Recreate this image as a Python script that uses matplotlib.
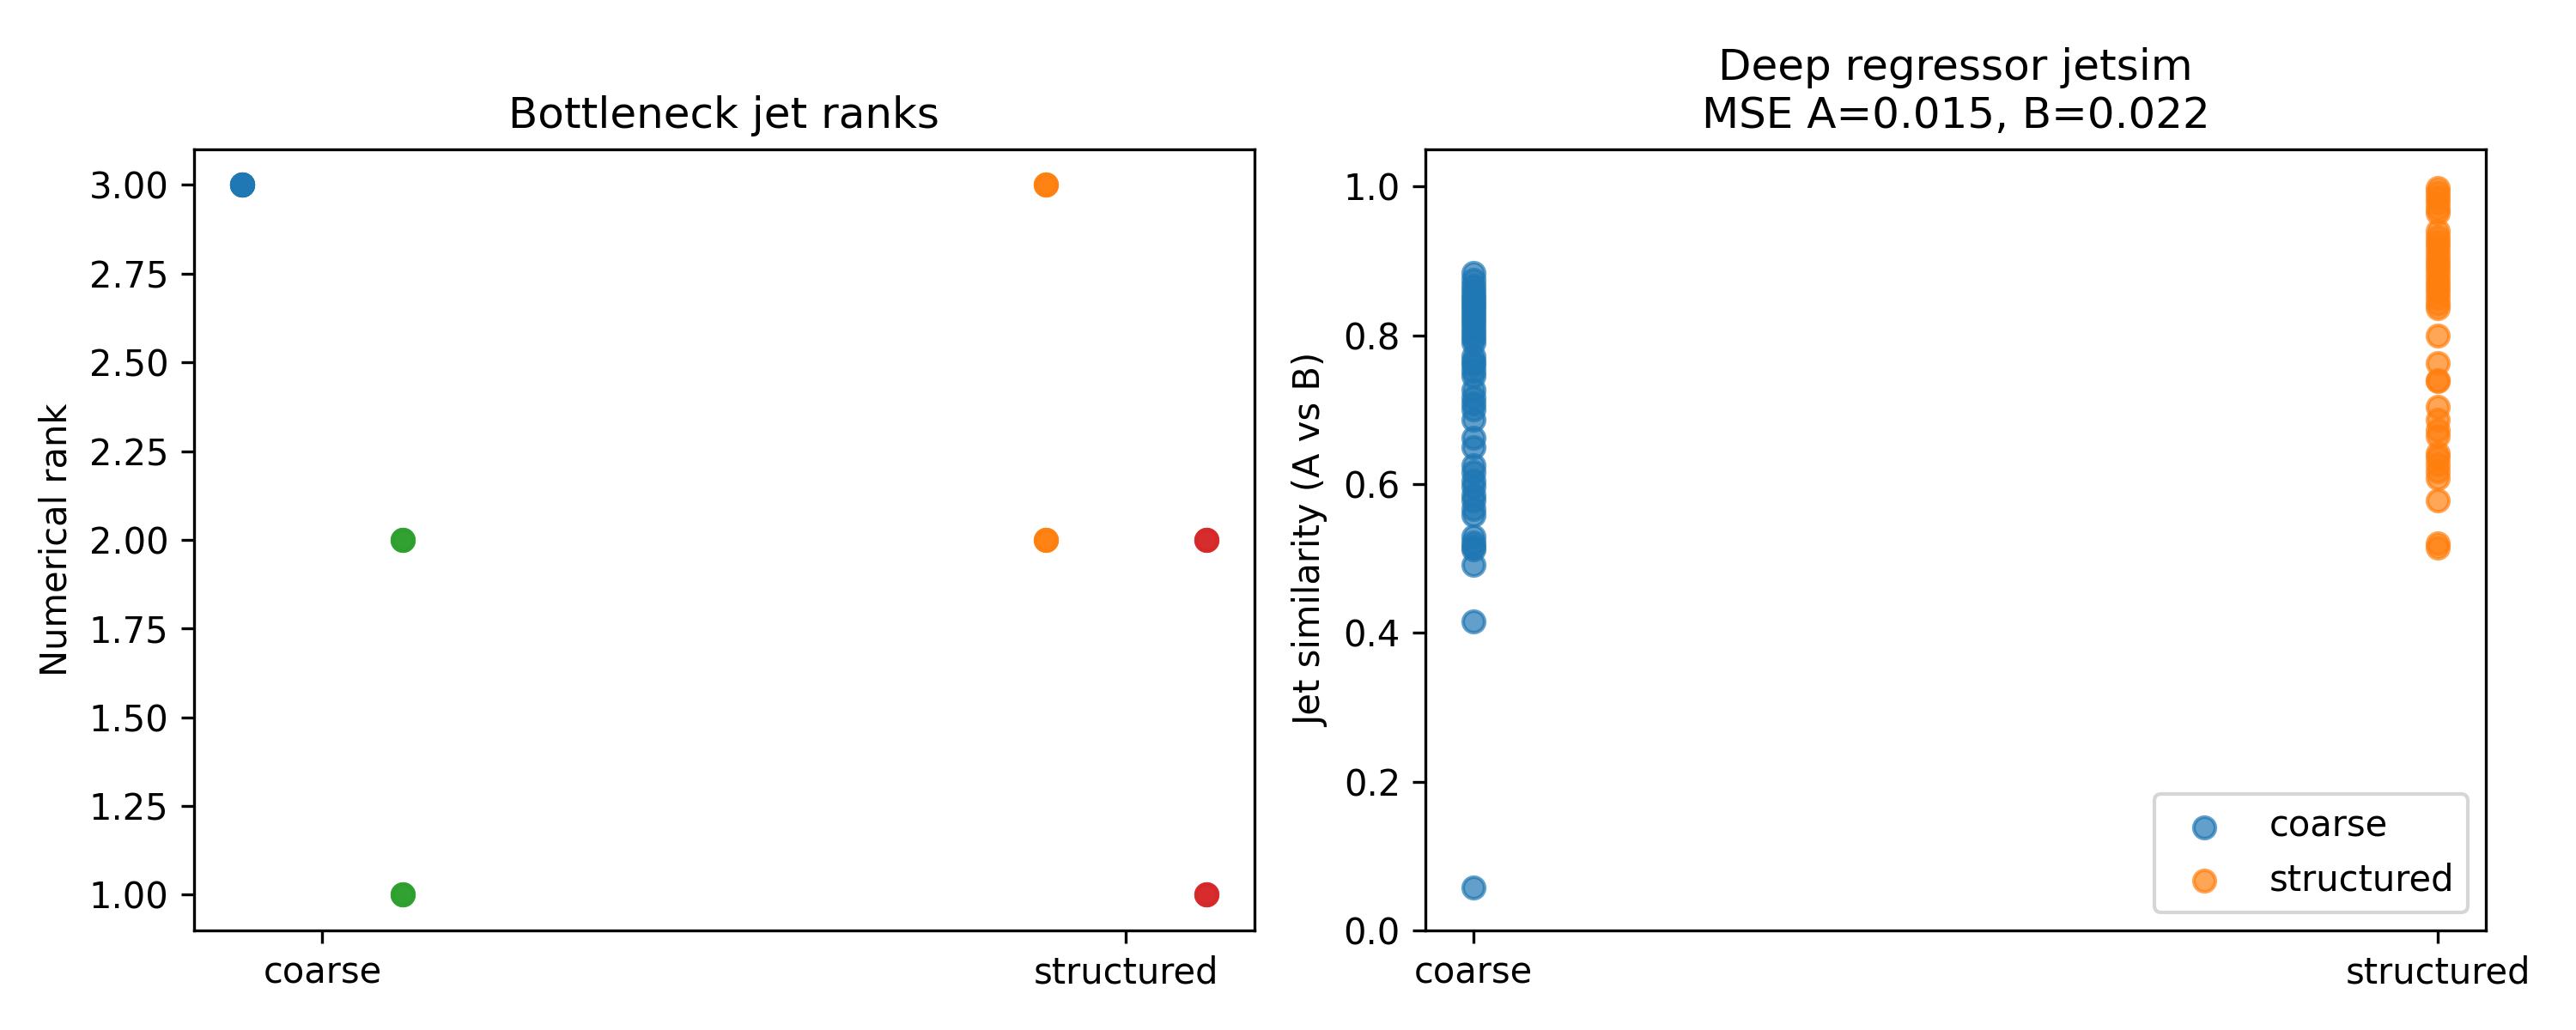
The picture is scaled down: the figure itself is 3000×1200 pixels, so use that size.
import numpy as np
import matplotlib
matplotlib.use('Agg')
import matplotlib.pyplot as plt

regimes = ['coarse', 'structured']

# bottleneck ranks (left panel), per model and regime
rank_a_coarse = [3, 3, 3, 3, 3, 3]
rank_a_structured = [3, 3, 3, 2, 2, 2]
rank_b_coarse = [2, 1, 1, 2, 1, 2]
rank_b_structured = [2, 1, 2, 1, 2, 1]

# jet similarity (right panel)
sim_coarse = [0.884, 0.875, 0.866, 0.860, 0.853, 0.848, 0.842, 0.838, 0.832, 0.826,
              0.820, 0.814, 0.808, 0.802, 0.796, 0.790, 0.772, 0.765, 0.760, 0.752,
              0.745, 0.727, 0.716, 0.708, 0.700, 0.686, 0.662, 0.650, 0.625, 0.616,
              0.605, 0.596, 0.585, 0.578, 0.566, 0.558, 0.530, 0.522, 0.516, 0.512,
              0.492, 0.415, 0.057]
sim_structured = [0.998, 0.992, 0.985, 0.978, 0.970, 0.965, 0.940, 0.932, 0.925, 0.918,
                  0.910, 0.902, 0.895, 0.888, 0.880, 0.872, 0.865, 0.858, 0.850, 0.842,
                  0.836, 0.800, 0.763, 0.740, 0.738, 0.704, 0.687, 0.673, 0.665, 0.642,
                  0.636, 0.627, 0.617, 0.608, 0.578, 0.520, 0.514]

mse_a = 0.015
mse_b = 0.022

fig, (ax1, ax2) = plt.subplots(1, 2, figsize=(10, 4), dpi=300)

# left: ranks, model A shifted left, model B shifted right
off = 0.1
ax1.scatter(np.full(len(rank_a_coarse), 0 - off), rank_a_coarse, alpha=0.7)
ax1.scatter(np.full(len(rank_a_structured), 1 - off), rank_a_structured, alpha=0.7)
ax1.scatter(np.full(len(rank_b_coarse), 0 + off), rank_b_coarse, alpha=0.7)
ax1.scatter(np.full(len(rank_b_structured), 1 + off), rank_b_structured, alpha=0.7)
ax1.set_xticks([0, 1])
ax1.set_xticklabels(regimes)
ax1.set_ylabel('Numerical rank')
ax1.set_title('Bottleneck jet ranks')

# right: similarity per regime
for i, (name, vals) in enumerate(zip(regimes, [sim_coarse, sim_structured])):
    ax2.scatter(np.full(len(vals), i), vals, alpha=0.7, label=name)
ax2.set_xticks([0, 1])
ax2.set_xticklabels(regimes)
ax2.set_ylim(0, 1.05)
ax2.set_ylabel('Jet similarity (A vs B)')
ax2.set_title(f'Deep regressor jetsim\nMSE A={mse_a:.3f}, B={mse_b:.3f}')
ax2.legend(loc='lower right')

fig.tight_layout()
fig.subplots_adjust(top=0.855)
fig.savefig('out.png')
